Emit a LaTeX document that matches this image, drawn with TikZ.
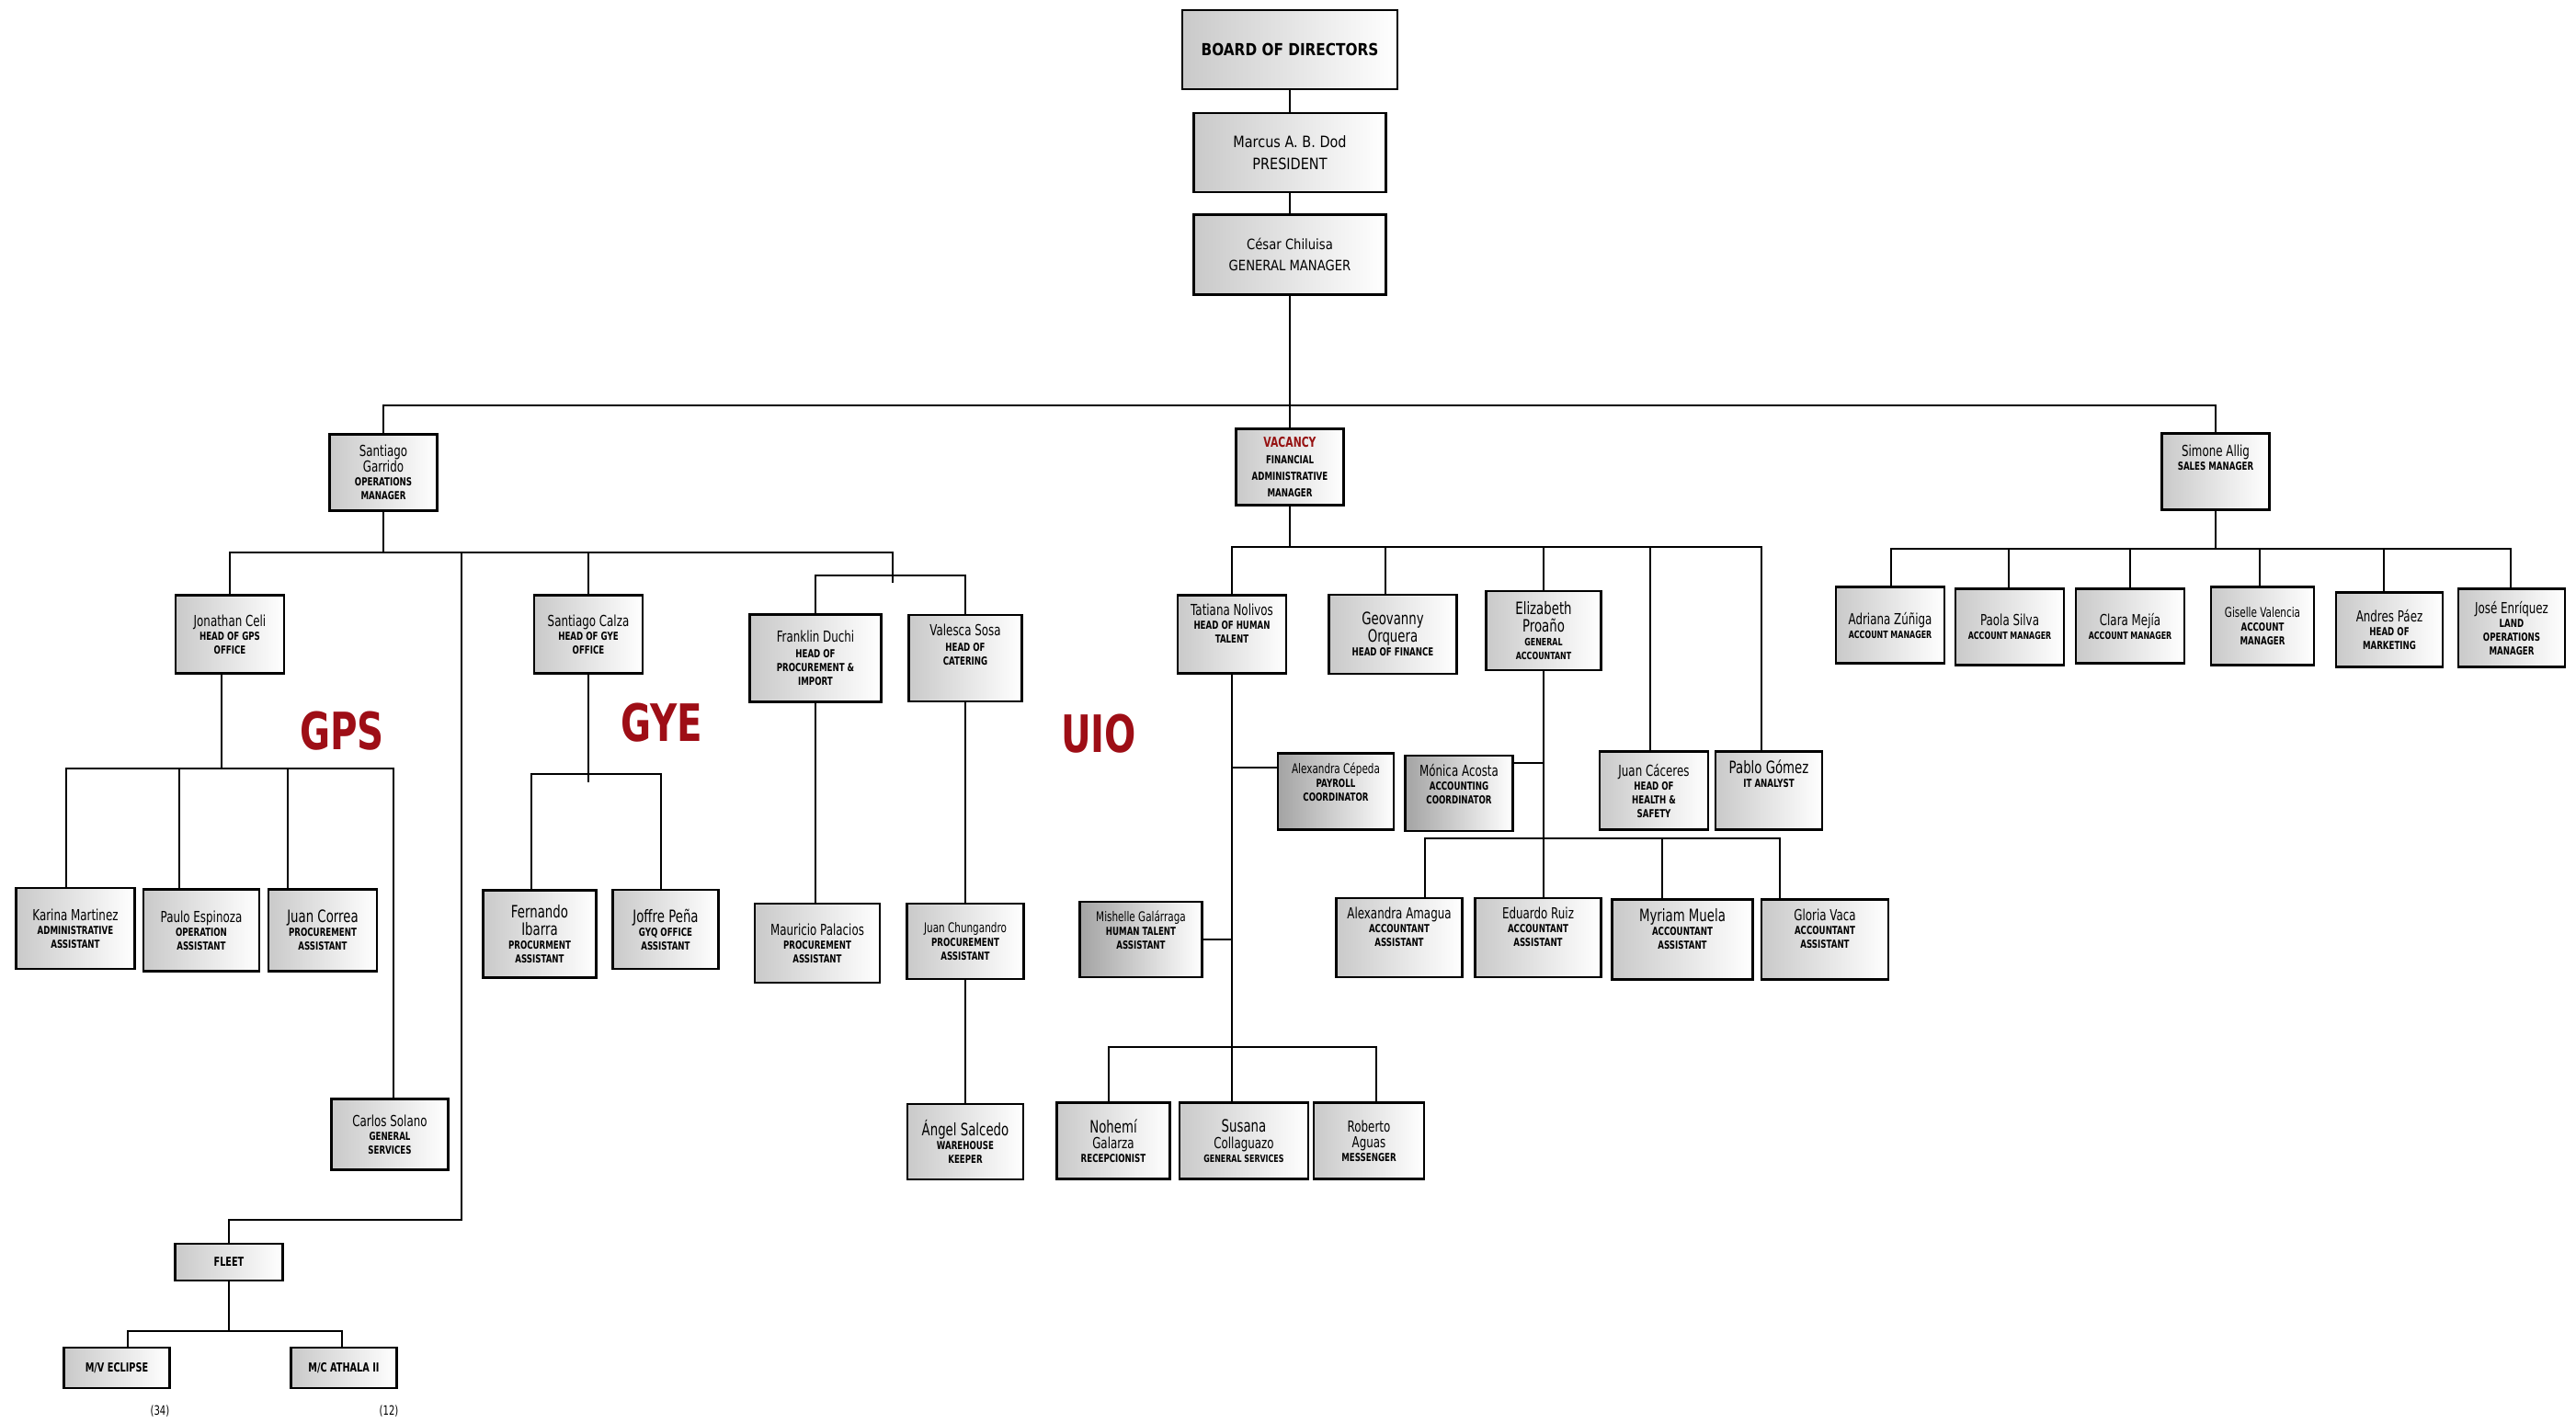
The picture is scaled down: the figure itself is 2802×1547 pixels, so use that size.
\documentclass[tikz,border=0pt]{standalone}
\usepackage{fontspec}
\newfontfamily\cnd[FakeStretch=0.72]{DejaVu Sans}
\newfontfamily\cndw[FakeStretch=0.85]{DejaVu Sans}
\usetikzlibrary{calc}
\pgfdeclarelayer{bg}
\pgfsetlayers{bg,main}
\definecolor{lblred}{RGB}{158,14,22}
\definecolor{vacred}{RGB}{150,18,18}
\newcommand\xTl{\cnd\bfseries\fontsize{12}{15}\selectfont}
\newcommand\xNm[1]{{\mdseries\fontsize{16.5}{18}\selectfont\rule[-0.22em]{0pt}{0.92em}#1}}
\newcommand\xNl[1]{{\mdseries\fontsize{18.5}{20}\selectfont\rule[-0.22em]{0pt}{0.92em}#1}}
\newcommand\xNs[1]{{\mdseries\fontsize{14.5}{16}\selectfont\rule[-0.22em]{0pt}{0.92em}#1}}
\newcommand\xTs[1]{{\fontsize{11}{12}\selectfont #1}}
\begin{document}
\begin{tikzpicture}[x=1pt,y=-1pt,
 box/.style={draw, line width=2.3pt, left color=gray!42, middle color=gray!10, right color=white, inner sep=1pt, align=center, font=\xTl},
 dbox/.style={box, left color=gray!72, middle color=gray!30, right color=white},
 sz/.style 2 args={minimum width=#1pt, minimum height=#2pt},
 ln/.style={line width=2.1pt, line cap=rect},
 lbl/.style={text=lblred, inner sep=0pt, font=\cnd\bfseries\fontsize{56}{56}\selectfont},
 note/.style={inner sep=0pt, font=\cnd\fontsize{14}{14}\selectfont}]
\path[use as bounding box] (0,0) rectangle (2802,1547);

% top
\node[box,sz={234}{86},font=\cndw\bfseries\fontsize{18}{20}\selectfont] (board) at (1403,54) {BOARD OF DIRECTORS};
\node[box,sz={209}{86},font=\cndw\fontsize{17}{24}\selectfont] (pres) at (1403,166) {Marcus A. B. Dod\\PRESIDENT};
\node[box,sz={209}{87},font=\cndw\fontsize{15.5}{23}\selectfont] (gm) at (1403,277) {César Chiluisa\\GENERAL MANAGER};

% managers
\node[box,sz={117}{83}] (garrido) at (417,514) {\xNm{Santiago}\\\xNm{Garrido}\\OPERATIONS\\MANAGER};
\node[box,sz={117}{83}] (vac) at (1403,508) {{\color{vacred}\fontsize{15}{16}\selectfont VACANCY}\\[3pt]FINANCIAL\\[3pt]ADMINISTRATIVE\\[3pt]MANAGER};
\node[box,sz={117}{83}] (simone) at (2410,513) {\xNm{Simone Allig}\\SALES MANAGER\\[16pt]};

% operations
\node[box,sz={118}{85}] (celi) at (250,690) {\xNm{Jonathan Celi}\\HEAD OF GPS\\OFFICE};
\node[box,sz={118}{85}] (calza) at (640,690) {\xNm{Santiago Calza}\\HEAD OF GYE\\OFFICE};
\node[box,sz={143}{95}] (franklin) at (887,716) {\xNm{Franklin Duchi}\\[2pt]HEAD OF\\PROCUREMENT \&\\IMPORT};
\node[box,sz={123}{94}] (valesca) at (1050,716) {\xNm{Valesca Sosa}\\[2pt]HEAD OF\\CATERING\\[14pt]};

\node[box,sz={129}{88}] (karina) at (82,1010) {\xNm{Karina Martinez}\\ADMINISTRATIVE\\ASSISTANT};
\node[box,sz={126}{89}] (paulo) at (219,1012) {\xNm{Paulo Espinoza}\\OPERATION\\ASSISTANT};
\node[box,sz={118}{89}] (jcorrea) at (351,1012) {\xNl{Juan Correa}\\PROCUREMENT\\ASSISTANT};
\node[box,sz={127}{77}] (carlos) at (424,1234) {\xNm{Carlos Solano}\\GENERAL\\SERVICES};
\node[box,sz={123}{95}] (fernando) at (587,1016) {\xNl{Fernando}\\\xNl{Ibarra}\\PROCURMENT\\ASSISTANT};
\node[box,sz={115}{86}] (joffre) at (724,1011) {\xNl{Joffre Peña}\\GYQ OFFICE\\ASSISTANT};
\node[box,sz={136}{86}] (mauricio) at (889,1026) {\xNm{Mauricio Palacios}\\PROCUREMENT\\ASSISTANT};
\node[box,sz={127}{82}] (chung) at (1050,1024) {\xNs{Juan Chungandro}\\PROCUREMENT\\ASSISTANT};
\node[box,sz={126}{82}] (salcedo) at (1050,1242) {\xNl{Ángel Salcedo}\\WAREHOUSE\\KEEPER};

% fleet
\node[box,sz={117}{40},font=\cnd\bfseries\fontsize{13.5}{14}\selectfont] (fleet) at (249,1373) {FLEET};
\node[box,sz={115}{44},font=\cnd\bfseries\fontsize{13.5}{14}\selectfont] (eclipse) at (127,1488) {M/V ECLIPSE};
\node[box,sz={115}{44},font=\cnd\bfseries\fontsize{13.5}{14}\selectfont] (athala) at (374,1488) {M/C ATHALA II};
\node[note] (n34) at (174,1535) {(34)};
\node[note] (n12) at (423,1535) {(12)};

% financial administrative
\node[box,sz={118}{85}] (tatiana) at (1340,690) {\xNm{Tatiana Nolivos}\\HEAD OF HUMAN\\TALENT\\[8pt]};
\node[box,sz={139}{86}] (geov) at (1515,690) {\xNl{Geovanny}\\\xNl{Orquera}\\HEAD OF FINANCE};
\node[box,sz={125}{86}] (eliz) at (1679,686) {\xNl{Elizabeth}\\\xNl{Proaño}\\\xTs{GENERAL}\\\xTs{ACCOUNTANT}};
\node[box,sz={118}{85}] (jcac) at (1799,860) {\xNm{Juan Cáceres}\\HEAD OF\\HEALTH \&\\SAFETY};
\node[box,sz={116}{85}] (pablo) at (1924,860) {\xNl{Pablo Gómez}\\IT ANALYST\\[22pt]};
\node[dbox,sz={126}{83}] (acep) at (1453,861) {\xNs{Alexandra Cépeda}\\PAYROLL\\COORDINATOR\\[6pt]};
\node[dbox,sz={117}{82}] (monica) at (1587,863) {\xNm{Mónica Acosta}\\ACCOUNTING\\COORDINATOR\\[6pt]};
\node[box,sz={137}{86}] (amagua) at (1522,1020) {\xNm{Alexandra Amagua}\\ACCOUNTANT\\ASSISTANT\\[8pt]};
\node[box,sz={137}{86}] (eduardo) at (1673,1020) {\xNm{Eduardo Ruiz}\\ACCOUNTANT\\ASSISTANT\\[8pt]};
\node[box,sz={153}{87}] (myriam) at (1830,1022) {\xNl{Myriam Muela}\\ACCOUNTANT\\ASSISTANT\\[8pt]};
\node[box,sz={138}{87}] (gloria) at (1985,1022) {\xNm{Gloria Vaca}\\ACCOUNTANT\\ASSISTANT\\[8pt]};
\node[dbox,sz={133}{82}] (mish) at (1241,1022) {\xNs{Mishelle Galárraga}\\HUMAN TALENT\\ASSISTANT\\[6pt]};
\node[box,sz={123}{83}] (nohemi) at (1211,1241) {\xNl{Nohemí}\\\xNm{Galarza}\\RECEPCIONIST};
\node[box,sz={140}{83}] (susana) at (1353,1241) {\xNl{Susana}\\\xNm{Collaguazo}\\\xTs{GENERAL SERVICES}};
\node[box,sz={120}{83}] (roberto) at (1489,1241) {\xNm{Roberto}\\\xNm{Aguas}\\MESSENGER};

% sales
\node[box,sz={118}{83}] (adriana) at (2056,680) {\xNm{Adriana Zúñiga}\\\xTs{ACCOUNT MANAGER}};
\node[box,sz={118}{83}] (paola) at (2186,682) {\xNm{Paola Silva}\\\xTs{ACCOUNT MANAGER}};
\node[box,sz={118}{81}] (clara) at (2317,681) {\xNm{Clara Mejía}\\\xTs{ACCOUNT MANAGER}};
\node[box,sz={112}{85}] (giselle) at (2461,681) {\xNs{Giselle Valencia}\\ACCOUNT\\MANAGER};
\node[box,sz={116}{81}] (andres) at (2599,685) {\xNm{Andres Páez}\\HEAD OF\\MARKETING};
\node[box,sz={116}{85}] (jose) at (2732,683) {\xNm{José Enríquez}\\LAND\\OPERATIONS\\MANAGER};

% red labels
\node[lbl] (gps) at (372,795) {GPS};
\node[lbl] (gye) at (720,786) {GYE};
\node[lbl] (uio) at (1195,798) {UIO};

\begin{pgfonlayer}{bg}
\fill[white] (0,0) rectangle (2802,1547);
% top
\coordinate (tbL) at (417,441); \coordinate (tbR) at (2410,441);
\draw[ln] (board) -- (pres);
\draw[ln] (pres) -- (gm);
\draw[ln] (gm.south) -- (gm.south |- tbL);
\draw[ln] (tbL) -- (tbR);
\draw[ln] (tbL) -- (garrido.north);
\draw[ln] (vac.north) -- (vac.north |- tbL);
\draw[ln] (tbR) -- (simone.north);
% operations
\coordinate (obL) at (250,601); \coordinate (obR) at (971,601);
\draw[ln] (garrido.south) -- (garrido.south |- obL);
\draw[ln] (obL) -- (obR) -- ++(0,32);
\draw[ln] (obL) -- (celi.north);
\draw[ln] (calza.north) -- (calza.north |- obL);
\coordinate (flT) at (502,601); \coordinate (flC) at (502,1327);
\draw[ln] (flT) -- (flC) -| (fleet.north);
\coordinate (fvL) at (887,626);
\draw[ln] (franklin.north) -- (franklin.north |- fvL) -- (valesca.north |- fvL) -- (valesca.north);
\draw[ln] (franklin.south) -- (franklin.south |- mauricio.north);
\draw[ln] (valesca.south) -- (chung.north);
\draw[ln] (chung.south) -- (salcedo.north);
% GPS
\coordinate (gpsJ) at (241,836);
\coordinate (gA) at (72,836); \coordinate (gB) at (195,836);
\coordinate (gC) at (313,836); \coordinate (gD) at (428,836);
\draw[ln] (celi.south -| gpsJ) -- (gpsJ);
\draw[ln] (gA) -- (gD);
\draw[ln] (gA) -- (karina.north -| gA);
\draw[ln] (gB) -- (paulo.north -| gB);
\draw[ln] (gC) -- (jcorrea.north -| gC);
\draw[ln] (gD) -- (carlos.north -| gD);
% GYE
\coordinate (gyJ) at (640,850); \coordinate (yA) at (578,842); \coordinate (yB) at (719,842);
\draw[ln] (calza.south) -- (gyJ);
\draw[ln] (yA) -- (yB);
\draw[ln] (yA) -- (fernando.north -| yA);
\draw[ln] (yB) -- (joffre.north -| yB);
% fleet
\coordinate (fA) at (139,1448); \coordinate (fB) at (372,1448);
\draw[ln] (fleet.south) -- (fleet.south |- fA);
\draw[ln] (fA) -- (fB);
\draw[ln] (fA) -- (eclipse.north -| fA);
\draw[ln] (fB) -- (athala.north -| fB);
% UIO
\coordinate (uA) at (1340,595); \coordinate (uB) at (1507,595);
\coordinate (uD) at (1795,595); \coordinate (uE) at (1916,595);
\draw[ln] (vac.south) -- (vac.south |- uA);
\draw[ln] (uA) -- (uE);
\draw[ln] (uA) -- (tatiana.north);
\draw[ln] (uB) -- (geov.north -| uB);
\draw[ln] (eliz.north) -- (eliz.north |- uA);
\draw[ln] (uD) -- (jcac.north -| uD);
\draw[ln] (uE) -- (pablo.north -| uE);
% human talent
\draw[ln] (tatiana.south) -- (tatiana.south |- susana.north);
\coordinate (hA) at (1340,835); \draw[ln] (hA) -- (acep.west |- hA);
\coordinate (hB) at (1340,1022); \draw[ln] (hB) -- (mish.east |- hB);
\coordinate (hL) at (1206,1139); \coordinate (hR) at (1497,1139);
\draw[ln] (hL) -- (hR);
\draw[ln] (hL) -- (nohemi.north -| hL);
\draw[ln] (hR) -- (roberto.north -| hR);
% accounting
\draw[ln] (eliz.south) -- (eliz.south |- eduardo.north);
\coordinate (aJ) at (1679,830); \draw[ln] (aJ) -- (monica.east |- aJ);
\coordinate (aL) at (1550,912); \coordinate (aM) at (1808,912); \coordinate (aR) at (1936,912);
\draw[ln] (aL) -- (aR);
\draw[ln] (aL) -- (amagua.north -| aL);
\draw[ln] (aM) -- (myriam.north -| aM);
\draw[ln] (aR) -- (gloria.north -| aR);
% sales
\coordinate (sL) at (2057,597); \coordinate (sB) at (2185,597); \coordinate (sC) at (2317,597);
\coordinate (sD) at (2458,597); \coordinate (sE) at (2593,597); \coordinate (sR) at (2731,597);
\draw[ln] (simone.south) -- (simone.south |- sL);
\draw[ln] (sL) -- (sR);
\draw[ln] (sL) -- (adriana.north -| sL);
\draw[ln] (sB) -- (paola.north -| sB);
\draw[ln] (sC) -- (clara.north -| sC);
\draw[ln] (sD) -- (giselle.north -| sD);
\draw[ln] (sE) -- (andres.north -| sE);
\draw[ln] (sR) -- (jose.north -| sR);
\end{pgfonlayer}
\end{tikzpicture}
\end{document}
